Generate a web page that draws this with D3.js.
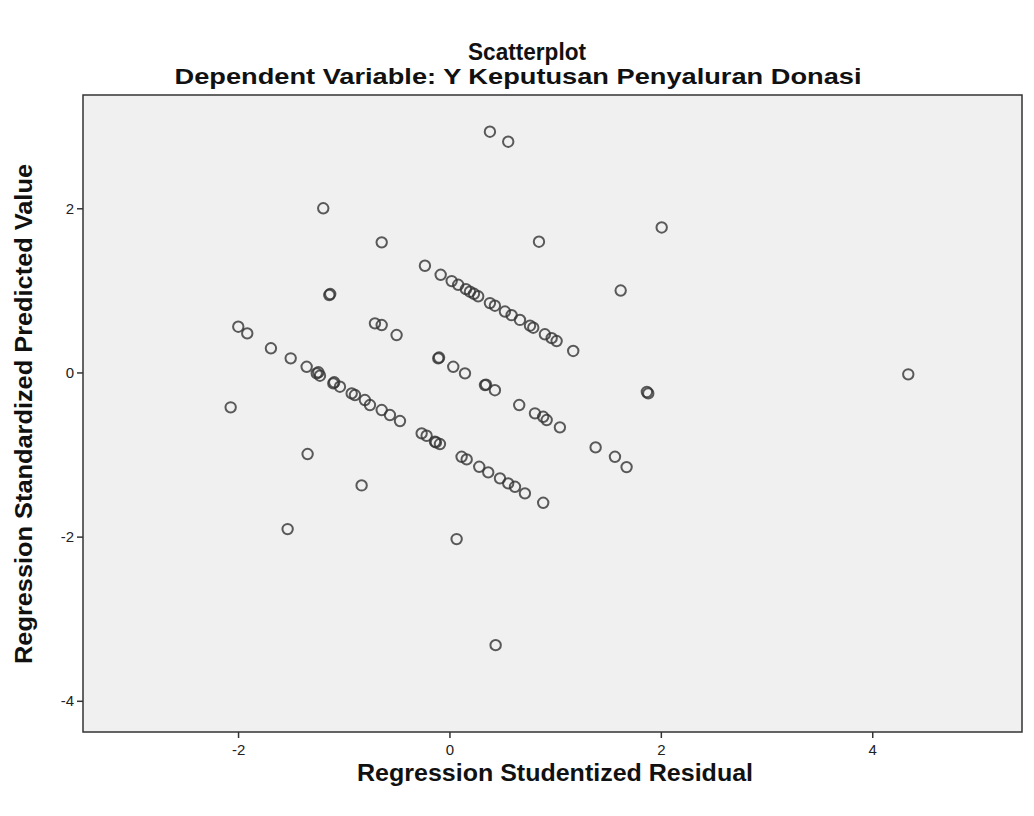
<!DOCTYPE html>
<html><head><meta charset="utf-8">
<script src="https://cdn.jsdelivr.net/npm/d3@7"></script>
<style>body{margin:0;background:#fff;} text{font-family:"Liberation Sans",Arial,sans-serif;}</style>
</head><body>
<svg id="c" width="1034" height="816"></svg>
<script>
const title = "Scatterplot";
const subtitle = "Dependent Variable: Y Keputusan Penyaluran Donasi";
const xLabel = "Regression Studentized Residual";
const yLabel = "Regression Standardized Predicted Value";
const xTicks = [-2, 0, 2, 4];
const yTicks = [2, 0, -2, -4];

// Studentized residual (x) and standardized predicted value (y)
const residual = [
  0.383, 0.556, -1.194, -0.641, 0.847, 2.008, 1.620, -1.137, -1.128,
  -0.232, -0.083, 0.021, 0.083, 0.156, 0.194, 0.232, 0.272, 0.383, 0.430, 0.525, 0.588, 0.667, 0.762, 0.793, 0.903, 0.967, 1.014, 1.171,
  -0.705, -0.641, -0.500,
  -1.998, -1.913, -1.689, -1.502, -1.351, -1.256, -1.240, -1.225, -1.099, -1.090, -1.036, -0.925, -0.894, -0.800, -0.752, -0.641, -0.563, -0.468,
  -0.263, -0.216, -0.137, -0.128, -0.090, 0.115, 0.163, 0.282, 0.367, 0.478, 0.556, 0.620, 0.714, 0.887,
  -0.106, -0.098, 0.036, 0.147, 0.336, 0.346, 0.430, 0.660, 0.809, 0.887, 0.920, 1.045, 1.383, 1.566, 1.676, 1.881, 1.868,
  -2.070, -1.342, -0.831, -1.531, 0.068, 0.437, 4.341
];
const predicted = [
  2.933, 2.811, 2.000, 1.585, 1.593, 1.766, 0.998, 0.943, 0.955,
  1.300, 1.190, 1.113, 1.068, 1.015, 0.984, 0.958, 0.928, 0.845, 0.813, 0.742, 0.698, 0.640, 0.570, 0.545, 0.465, 0.418, 0.383, 0.262,
  0.598, 0.578, 0.456,
  0.557, 0.476, 0.294, 0.172, 0.069, -0.011, 0.002, -0.040, -0.133, -0.120, -0.174, -0.255, -0.275, -0.336, -0.397, -0.458, -0.519, -0.592,
  -0.742, -0.771, -0.844, -0.852, -0.872, -1.027, -1.059, -1.149, -1.217, -1.290, -1.351, -1.393, -1.473, -1.588,
  0.172, 0.182, 0.069, -0.011, -0.154, -0.148, -0.216, -0.397, -0.498, -0.540, -0.580, -0.669, -0.913, -1.027, -1.153, -0.255, -0.238,
  -0.425, -0.994, -1.376, -1.908, -2.030, -3.322, -0.023
];

const svg = d3.select("#c");
const L = 83, R = 1022, T = 95, B = 732;
const x = d3.scaleLinear().domain([-3.467, 5.417]).range([L, R]);
const y = d3.scaleLinear().domain([-4.38, 3.38]).range([B, T]);

svg.append("rect").attr("x", L).attr("y", T).attr("width", R - L).attr("height", B - T)
  .attr("fill", "#f0f0f0");

const fmt = d => String(d);
const xa = svg.append("g").attr("transform", `translate(0,${B})`)
  .call(d3.axisBottom(x).tickValues(xTicks).tickSize(6).tickSizeOuter(0).tickFormat(fmt));
const ya = svg.append("g").attr("transform", `translate(${L},0)`)
  .call(d3.axisLeft(y).tickValues(yTicks).tickSize(6).tickSizeOuter(0).tickFormat(fmt));
[xa, ya].forEach(a => {
  a.select(".domain").remove();
  a.selectAll("line").attr("stroke", "#333").attr("stroke-width", 1.5);
  a.selectAll("text").attr("fill", "#222").style("font-size", "15px");
});
xa.selectAll("text").attr("dy", "0.95em");

svg.append("rect").attr("x", L).attr("y", T).attr("width", R - L).attr("height", B - T)
  .attr("fill", "none").attr("stroke", "#333").attr("stroke-width", 1.5);

const pts = residual.map((r, i) => ({r, p: predicted[i]}));
svg.append("g").selectAll("circle").data(pts).join("circle")
  .attr("cx", d => x(d.r)).attr("cy", d => y(d.p)).attr("r", 5.2)
  .attr("fill", "none").attr("stroke", "#333").attr("stroke-opacity", 0.8).attr("stroke-width", 2);

function label(t, tx, ty, len, size, rot) {
  svg.append("text").attr("transform", `translate(${tx},${ty})` + (rot ? " rotate(-90)" : ""))
    .attr("text-anchor", "middle")
    .attr("textLength", len).attr("lengthAdjust", "spacingAndGlyphs")
    .style("font-size", size + "px").style("font-weight", "bold").attr("fill", "#111").text(t);
}
label(title, 527, 60, 118, 23, false);
label(subtitle, 518, 84, 687, 22, false);
label(xLabel, 555, 781, 396, 23, false);
label(yLabel, 32, 414, 500, 23, true);
</script>
</body></html>
